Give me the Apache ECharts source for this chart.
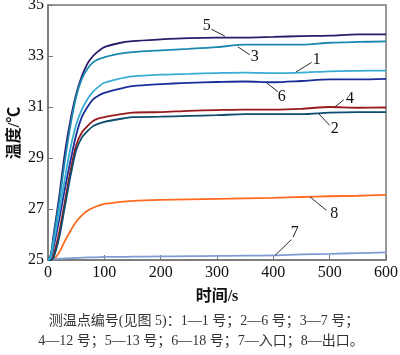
<!DOCTYPE html>
<html><head><meta charset="utf-8">
<script src="https://cdn.jsdelivr.net/npm/echarts@6/dist/echarts.min.js"></script>
<style>html,body{margin:0;padding:0;background:#fff}#c{width:400px;height:355px}</style>
</head><body><div id="c"></div>
<script>
const times = [0,5,10,20,30,40,50,60,70,80,90,100,125,150,200,250,300,350,400,450,500,550,600];
const s1 = [25,25.1,25.7,26.9,28.2,29.4,30.3,30.9,31.3,31.6,31.8,31.95,32.1,32.2,32.27,32.3,32.33,32.35,32.33,32.35,32.4,32.42,32.43];
const s2 = [25,25,25.1,25.9,27.1,28.3,29.3,29.8,30.05,30.25,30.35,30.42,30.52,30.6,30.62,30.65,30.68,30.72,30.72,30.72,30.78,30.8,30.8];
const s3 = [25,25.2,25.9,27.3,28.9,30.3,31.4,32.1,32.5,32.75,32.88,32.95,33.08,33.15,33.22,33.28,33.35,33.45,33.45,33.45,33.52,33.55,33.57];
const s4 = [25,25,25.2,26.1,27.3,28.5,29.5,30.0,30.25,30.45,30.55,30.6,30.7,30.78,30.8,30.85,30.88,30.9,30.9,30.93,31.0,30.97,30.98];
const s5 = [25,25.2,26,27.5,29.2,30.5,31.5,32.2,32.7,33.0,33.2,33.35,33.5,33.58,33.65,33.7,33.72,33.72,33.75,33.78,33.8,33.85,33.85];
const s6 = [25,25.05,25.5,26.6,27.8,28.9,29.9,30.6,31.0,31.3,31.45,31.55,31.7,31.82,31.9,31.95,31.98,32.0,31.97,32.02,32.08,32.08,32.1];
const s7 = [25,25.01,25.02,25.05,25.06,25.07,25.08,25.09,25.1,25.1,25.11,25.12,25.12,25.13,25.14,25.15,25.16,25.17,25.18,25.22,25.24,25.27,25.3];
const s8 = [25,25,25.02,25.3,25.75,26.15,26.5,26.75,26.93,27.05,27.13,27.2,27.27,27.32,27.36,27.38,27.4,27.42,27.44,27.47,27.5,27.52,27.55];
const seriesNames = ['1','2','3','4','5','6','7','8'];
const seriesValues = [s1,s2,s3,s4,s5,s6,s7,s8];
const seriesColors = ['#38aed3','#0d4c6c','#1a88b0','#981a1e','#2d1a6a','#1a2d98','#7f9bd4','#ff6a1f'];
// leader line: start on curve [t,T], end near label [t,T]; label position [t,T]
const leaderStart = [[440,32.37],[480,30.75],[337,33.36],[509,31.0],[314,33.78],[388,31.95],[403,25.18],[465,27.48]];
const leaderEnd   = [[468,32.75],[500,30.28],[358,33.05],[525,31.28],[290,34.05],[408,31.6],[432,25.8],[494,26.95]];
const labelPos    = [[477,32.84],[509,30.16],[367,32.95],[536,31.34],[282,34.2],[415,31.4],[438,26.05],[508,26.83]];
const xTicks = [0,100,200,300,400,500,600];
const yTicks = [25,27,29,31,33,35];
const xName = '时间/s';
const yName = '温度/℃';
const captionLines = ['测温点编号(见图 5)：1—1 号；2—6 号；3—7 号；','4—12 号；5—13 号；6—18 号；7—入口；8—出口。'];

const serif = '"Liberation Serif","Noto Sans CJK SC",serif';
const chart = echarts.init(document.getElementById('c'), null, {renderer:'canvas'});
const series = seriesNames.map((n,i)=>({
  name:n, type:'line', data: times.map((t,j)=>[t, seriesValues[i][j]]),
  showSymbol:false, smooth:0.3, lineStyle:{color:seriesColors[i], width:1.8}, itemStyle:{color:seriesColors[i]},
  z: 10-i,
  markLine:{silent:true, symbol:['none','none'], animation:false,
    lineStyle:{color:'#111', width:0.9, type:'solid'}, label:{show:false},
    data:[[{coord:leaderStart[i]},{coord:leaderEnd[i]}]]},
  markPoint:{silent:true, animation:false, symbol:'circle', symbolSize:0,
    label:{show:true, position:'inside', formatter:n, color:'#111', fontFamily:serif, fontSize:16},
    data:[{coord:labelPos[i]}]}
}));
chart.setOption({
  animation:false,
  grid:{left:48, right:14, top:5, bottom:95, outerBoundsMode:'none', containLabel:false, show:true, borderColor:'#777', borderWidth:1.5},
  xAxis:{type:'value', min:0, max:600, interval:100,
    name:xName, nameLocation:'middle', nameGap:29,
    nameTextStyle:{fontFamily:serif, fontSize:16, color:'#111', fontWeight:'bold'},
    axisLine:{show:true, lineStyle:{color:'#777', width:1.5}},
    axisTick:{show:true, inside:true, length:5, lineStyle:{color:'#777'}},
    axisLabel:{fontFamily:serif, fontSize:16, color:'#111', margin:5},
    splitLine:{show:false}},
  yAxis:{type:'value', min:25, max:35,
    axisLine:{show:true, lineStyle:{color:'#777', width:1.5}},
    axisTick:{show:true, inside:true, length:5, lineStyle:{color:'#777'}, customValues:yTicks},
    axisLabel:{fontFamily:serif, fontSize:16, color:'#111', margin:4, customValues:yTicks},
    splitLine:{show:false}},
  graphic: [
    {type:'text', x:15, y:133, rotation:Math.PI/2, style:{text:yName, fontFamily:serif, fontSize:16, fontWeight:'bold', fill:'#111', align:'center', verticalAlign:'middle'}}
  ].concat(captionLines.map((t,i)=>({type:'text', x:[204,201][i], y:[321,341][i], style:{text:t, fontFamily:serif, fontSize:14, fill:'#333', align:'center', verticalAlign:'middle'}}))),
  series
});
</script></body></html>
